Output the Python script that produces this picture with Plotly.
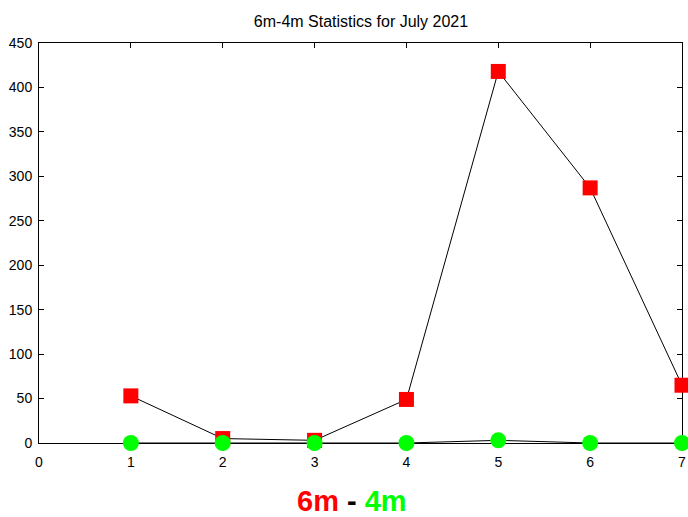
import plotly.graph_objects as go

days = [1, 2, 3, 4, 5, 6, 7]
six_m = [53, 5, 3, 49, 418, 287, 65]
four_m = [0, 0, 0, 0, 3, 0, 0]
x_ticks = [0, 1, 2, 3, 4, 5, 6, 7]
y_ticks = [0, 50, 100, 150, 200, 250, 300, 350, 400, 450]

fig = go.Figure()
fig.add_trace(go.Scatter(x=days, y=six_m, mode="lines+markers", name="6m",
                         line=dict(color="black", width=1),
                         marker=dict(symbol="square", size=15, color="#ff0000"),
                         cliponaxis=False))
fig.add_trace(go.Scatter(x=days, y=four_m, mode="lines+markers", name="4m",
                         line=dict(color="black", width=1),
                         marker=dict(symbol="circle", size=16, color="#00ff00"),
                         cliponaxis=False))

font = "Liberation Sans, Arial, sans-serif"
fig.update_layout(
    width=688, height=517,
    margin=dict(l=39, r=6, t=43, b=74, autoexpand=False),
    paper_bgcolor="white", plot_bgcolor="white",
    showlegend=False,
    title=dict(text="6m-4m Statistics for July 2021", x=(361 - 39) / 643, xanchor="center",
               xref="paper",
               y=1 - 21 / 517, yanchor="middle",
               font=dict(family=font, size=16, color="black")),
    font=dict(family=font, size=14, color="black"),
    annotations=[dict(
        text="<b><span style='color:#ff0000'>6m</span> <span style='color:black'>-</span> <span style='color:#00ff00'>4m</span></b>",
        x=(352 - 39) / 643, xref="paper", y=-(501 - 443) / 400, yref="paper",
        yanchor="middle", xanchor="center",
        showarrow=False, font=dict(family=font, size=29))],
)

fig.update_xaxes(range=[0, 7], tickvals=x_ticks, showgrid=False, zeroline=False,
                 showline=True, linecolor="black", linewidth=1, mirror="ticks",
                 ticks="inside", ticklen=5, tickcolor="black", automargin=False,
                 ticklabelstandoff=6, layer="below traces")
fig.update_yaxes(range=[0, 450], tickvals=y_ticks, showgrid=False, zeroline=False,
                 showline=True, linecolor="black", linewidth=1, mirror="ticks",
                 ticks="inside", ticklen=5, tickcolor="black", automargin=False,
                 ticklabelstandoff=3, layer="below traces")

fig.write_html("out.html", config={"displayModeBar": False},
               post_script="document.body.style.margin='0';document.body.style.overflow='hidden';")
